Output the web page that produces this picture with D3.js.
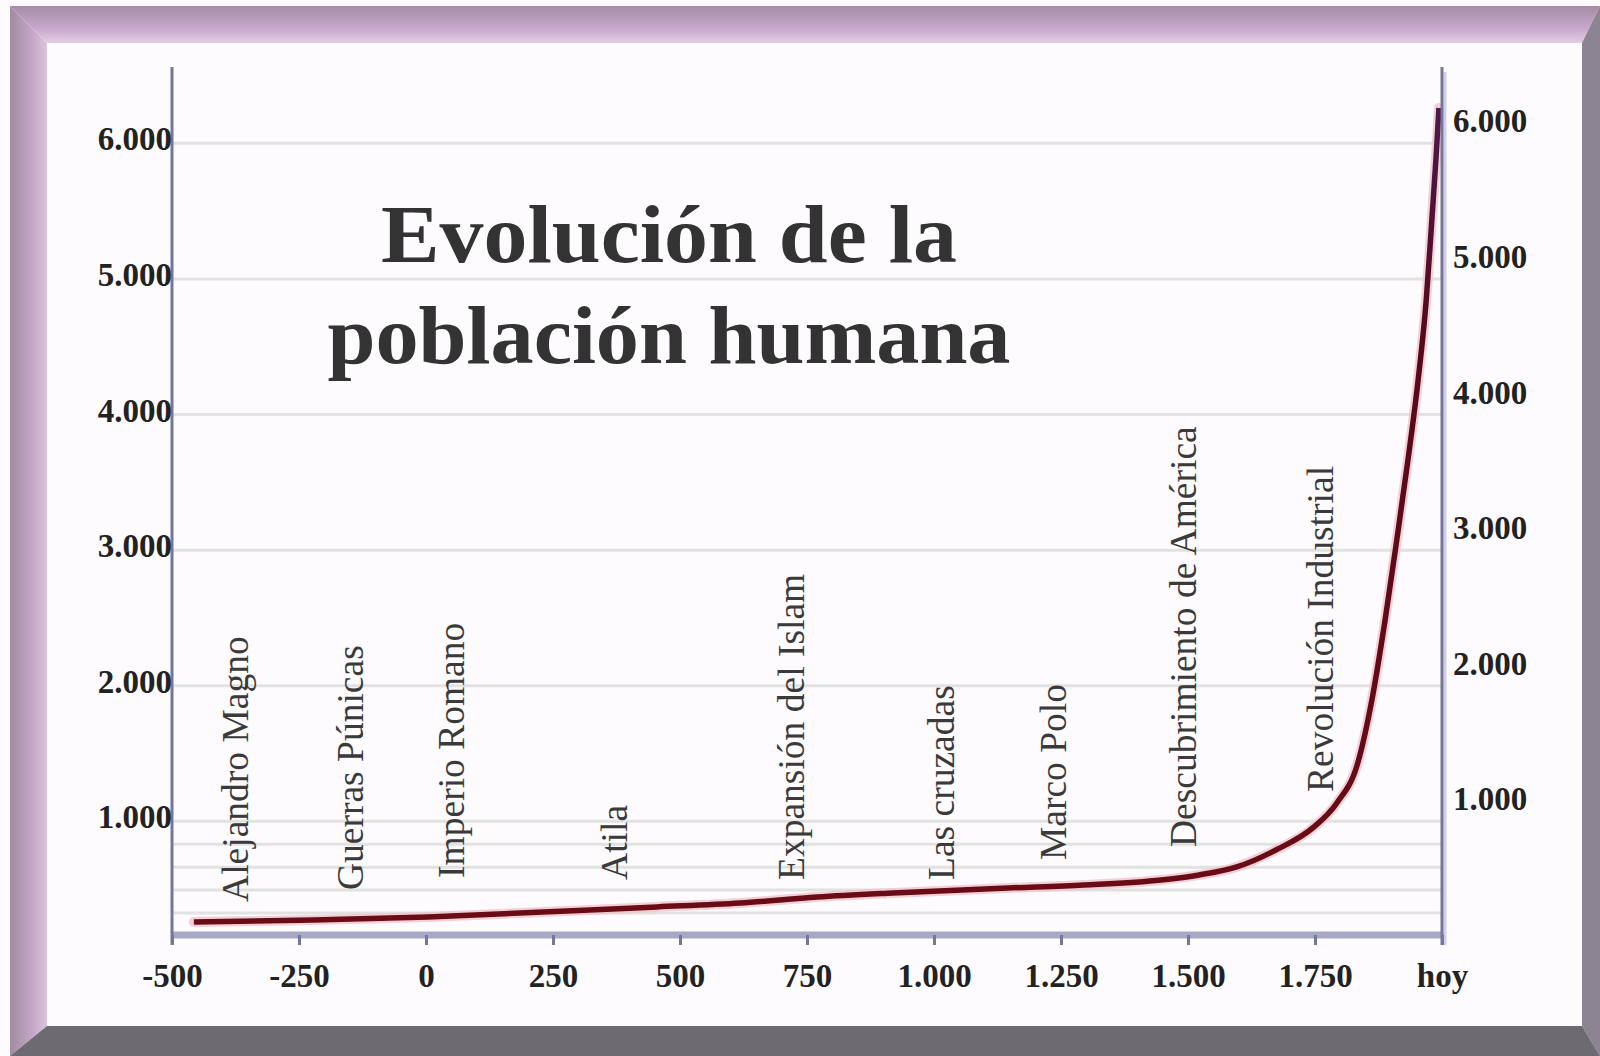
<!DOCTYPE html>
<html>
<head>
<meta charset="utf-8">
<script src="https://cdn.jsdelivr.net/npm/d3@7"></script>
<style>
  body { margin: 0; background: #fff; }
  svg { display: block; }
</style>
</head>
<body>
<svg id="chart" width="1600" height="1056"></svg>
<script>
// years (hoy = 2000) and population
var years = [-457, -222, 4, 230, 455, 618, 770, 919, 1146, 1295, 1447, 1522, 1596, 1673, 1748, 1793, 1833, 1862, 1888, 1911, 1933, 1953, 1969, 1980, 1988, 1994]
var pop = [258, 273, 295, 332, 369, 398, 442, 472, 509, 531, 568, 605, 664, 789, 959, 1136, 1416, 1895, 2485, 3075, 3665, 4255, 4845, 5435, 5878, 6261]

var xTicks = [-500, -250, 0, 250, 500, 750, 1000, 1250, 1500, 1750, 2000]
var yTicks = [1000, 2000, 3000, 4000, 5000, 6000]
var minorGrid = [831, 662, 493, 324]

var events = ['Alejandro Magno', 'Guerras Púnicas', 'Imperio Romano', 'Atila', 'Expansión del Islam',
              'Las cruzadas', 'Marco Polo', 'Descubrimiento de América', 'Revolución Industrial']
var eventYears = [-350, -125, 75, 395, 745, 1040, 1260, 1515, 1785]
var eventLevels = [406, 494, 583, 568, 568, 568, 715, 811, 1217]

var titleLines = ['Evolución de la', 'población humana']

var svg = d3.select('#chart')
var W = 1600, H = 1056
var plotL = 172, plotR = 1442, plotT = 67, plotB = 935

var fmt = d3.formatLocale({decimal: ',', thousands: '.', grouping: [3], currency: ['', ''], minus: '-'}).format(',d')

var x = d3.scaleLinear().domain([-500, 2000]).range([plotL, plotR])
var y = d3.scaleLinear().domain([162, 6563]).range([plotB, plotT])
var yRight = d3.scaleLinear().domain([0, 6401]).range([plotB, plotT])

var defs = svg.append('defs')
var gTop = defs.append('linearGradient').attr('id', 'gTop').attr('x1', 0).attr('y1', 0).attr('x2', 0).attr('y2', 1)
gTop.append('stop').attr('offset', '0%').attr('stop-color', '#a48ca6')
gTop.append('stop').attr('offset', '60%').attr('stop-color', '#c8a8cc')
gTop.append('stop').attr('offset', '100%').attr('stop-color', '#e0cee2')
var gLeft = defs.append('linearGradient').attr('id', 'gLeft').attr('x1', 0).attr('y1', 0).attr('x2', 1).attr('y2', 0)
gLeft.append('stop').attr('offset', '0%').attr('stop-color', '#a08ca2')
gLeft.append('stop').attr('offset', '60%').attr('stop-color', '#c4a6c8')
gLeft.append('stop').attr('offset', '100%').attr('stop-color', '#dcc4de')
var gLine = defs.append('linearGradient').attr('id', 'gLine').attr('gradientUnits', 'userSpaceOnUse')
  .attr('x1', 0).attr('y1', 930).attr('x2', 0).attr('y2', 100)
gLine.append('stop').attr('offset', '0%').attr('stop-color', '#6a0c16')
gLine.append('stop').attr('offset', '70%').attr('stop-color', '#58081a')
gLine.append('stop').attr('offset', '100%').attr('stop-color', '#4a1a4c')

// frame
svg.append('rect').attr('x', 0).attr('y', 0).attr('width', W).attr('height', H).attr('fill', '#fdfbfd')
svg.append('polygon').attr('points', '10,6 1600,6 1582,43 47,43').attr('fill', 'url(#gTop)')
svg.append('polygon').attr('points', '10,6 47,43 47,1026 10,1056').attr('fill', 'url(#gLeft)')
svg.append('polygon').attr('points', '1600,6 1600,1056 1582,1026 1582,43').attr('fill', '#8c8492')
svg.append('polygon').attr('points', '10,1056 1600,1056 1582,1026 47,1026').attr('fill', '#6e6a72')

// gridlines
svg.append('g').selectAll('line.minor')
  .data(minorGrid)
  .enter().append('line')
  .attr('x1', plotL).attr('x2', plotR)
  .attr('y1', function(d){ return y(d) }).attr('y2', function(d){ return y(d) })
  .style('stroke', '#e2e2e2').style('stroke-width', 3)

svg.append('g').selectAll('line.major')
  .data(yTicks)
  .enter().append('line')
  .attr('x1', plotL).attr('x2', plotR)
  .attr('y1', function(d){ return y(d) }).attr('y2', function(d){ return y(d) })
  .style('stroke', '#e2e2e2').style('stroke-width', 3)

// title
svg.append('g').selectAll('text')
  .data(titleLines)
  .enter().append('text')
  .attr('x', 669)
  .attr('y', function(d, i){ return 262 + i * 101 })
  .attr('text-anchor', 'middle')
  .attr('textLength', function(d, i){ return i == 0 ? 576 : 683 })
  .attr('lengthAdjust', 'spacingAndGlyphs')
  .style('font-family', '"Liberation Serif", "DejaVu Serif", serif')
  .style('font-weight', 'bold')
  .style('font-size', '82px')
  .style('fill', '#333')
  .text(function(d){ return d })

// event labels
svg.append('g').selectAll('text')
  .data(events)
  .enter().append('text')
  .attr('transform', function(d, i){ return 'translate(' + x(eventYears[i]) + ',' + y(eventLevels[i]) + ') rotate(-90)' })
  .style('font-family', '"Liberation Serif", "DejaVu Serif", serif')
  .style('font-size', '37.5px')
  .style('fill', '#3a3a3a')
  .text(function(d){ return d })

// curve
var pts = years.map(function(d, i){ return [d, pop[i]] })
var line = d3.line()
  .x(function(d){ return x(d[0]) })
  .y(function(d){ return y(d[1]) })
  .curve(d3.curveMonotoneX)

svg.append('path')
  .attr('d', line(pts))
  .style('fill', 'none')
  .style('stroke', '#f0c4cc')
  .style('stroke-width', 10)
  .style('stroke-linecap', 'round')
  .style('opacity', 0.8)

svg.append('path')
  .attr('d', line(pts))
  .style('fill', 'none')
  .style('stroke', 'url(#gLine)')
  .style('stroke-width', 5.5)

// axes
var axisColor = '#76769a'
svg.append('line').attr('x1', plotL).attr('x2', plotR).attr('y1', plotB).attr('y2', plotB)
  .style('stroke', '#a8a8c6').style('stroke-width', 7)
svg.append('line').attr('x1', plotL).attr('x2', plotL).attr('y1', plotT).attr('y2', 945)
  .style('stroke', axisColor).style('stroke-width', 3)
svg.append('line').attr('x1', plotR + 3).attr('x2', plotR + 3).attr('y1', plotT + 5).attr('y2', 945)
  .style('stroke', '#cfcfea').style('stroke-width', 3)
svg.append('line').attr('x1', plotR).attr('x2', plotR).attr('y1', plotT).attr('y2', 945)
  .style('stroke', axisColor).style('stroke-width', 3)

var tickFont = function(sel){
  sel.style('font-family', '"Liberation Serif", "DejaVu Serif", serif')
    .style('font-weight', 'bold')
    .style('font-size', '33px')
    .style('fill', '#222')
}

var xAxis = svg.append('g')
  .attr('transform', 'translate(0,' + plotB + ')')
  .call(d3.axisBottom(x).tickValues(xTicks).tickSize(10).tickPadding(19)
    .tickFormat(function(d){ return d == 2000 ? 'hoy' : fmt(d) }))
xAxis.select('.domain').remove()
xAxis.selectAll('line').style('stroke', axisColor).style('stroke-width', 3)
xAxis.selectAll('text').call(tickFont)

var yAxisL = svg.append('g')
  .attr('transform', 'translate(' + (plotL + 1) + ',0)')
  .call(d3.axisLeft(y).tickValues(yTicks).tickSize(0).tickPadding(1).tickFormat(fmt))
yAxisL.select('.domain').remove()
yAxisL.selectAll('text').attr('dy', '0.2em').call(tickFont)

var yAxisR = svg.append('g')
  .attr('transform', 'translate(' + (plotR + 10) + ',0)')
  .call(d3.axisRight(yRight).tickValues(yTicks).tickSize(0).tickPadding(1).tickFormat(fmt))
yAxisR.select('.domain').remove()
yAxisR.selectAll('text').call(tickFont)
</script>
</body>
</html>
